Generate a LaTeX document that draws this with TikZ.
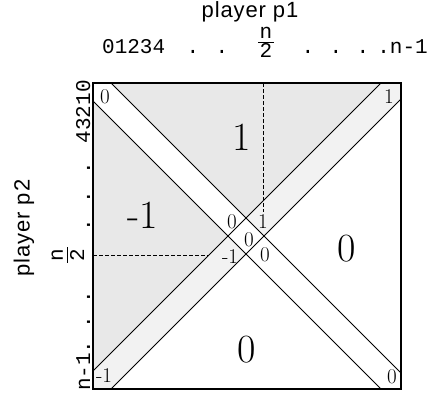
\documentclass[tikz,border=0pt]{standalone}
\usepackage{fontspec}
\newfontfamily\arialfont[LetterSpace=4]{Liberation Sans}
\newfontfamily\courfont{Liberation Mono}
\tikzset{
  frame/.style={line width=1.3pt},
  bandline/.style={line width=1pt},
  dashline/.style={line width=1pt, dash pattern=on 3.5pt off 2.5pt},
  fracbar/.style={line width=0.8pt},
  biglab/.style={font=\fontsize{40}{40}\selectfont, inner sep=0pt},
  smalllab/.style={font=\fontsize{21}{21}\selectfont, inner sep=0pt},
  axislab/.style={font=\courfont\fontsize{21}{21}\selectfont, inner sep=0pt},
  titlelab/.style={font=\arialfont\fontsize{22}{22}\selectfont, inner sep=0pt},
  darkfill/.style={fill=black!9},
  lightfill/.style={fill=black!5}
}
\begin{document}
\begin{tikzpicture}[x=1pt,y=-1pt]
\useasboundingbox (0,0) rectangle (429,394);
% corners
\coordinate (TL) at (93,83);
\coordinate (TR) at (401,83);
\coordinate (BR) at (401,389);
\coordinate (BL) at (93,389);
% band ends
\coordinate (a1s) at (111,83);  \coordinate (a1e) at (401,373);
\coordinate (a2s) at (93,101);  \coordinate (a2e) at (381,389);
\coordinate (b1s) at (93,371);  \coordinate (b1e) at (381,83);
\coordinate (b2s) at (111,389); \coordinate (b2e) at (401,99);
% shading
\fill[darkfill] (TL) -- (b1e) -- (b1s) -- cycle;
\fill[lightfill] (b1s) -- (b1e) -- (TR) -- (b2e) -- (b2s) -- (BL) -- cycle;
\fill[white] (TL) -- (a1s) -- (a1e) -- (BR) -- (a2e) -- (a2s) -- cycle;
% dashed guides
\coordinate (dv1) at (263,83);  \coordinate (dv2) at (263,212);
\coordinate (dh1) at (93,255);  \coordinate (dh2) at (208,255);
\draw[dashline] (dv1) -- (dv2);
\draw[dashline] (dh1) -- (dh2);
% band lines
\draw[bandline] (a1s) -- (a1e);
\draw[bandline] (a2s) -- (a2e);
\draw[bandline] (b1s) -- (b1e);
\draw[bandline] (b2s) -- (b2e);
% frame
\draw[frame] (TL) rectangle (BR);
% big labels
\node[biglab] (big1) at (242,137) {1};
\node[biglab] (bigm1) at (143,215) {-1};
\node[biglab] (bigr0) at (347,249) {0};
\node[biglab] (bigb0) at (247,350) {0};
% small labels
\node[smalllab] (ctl) at (105,97) {0};
\node[smalllab] (ctr) at (389,97) {1};
\node[smalllab] (cbl) at (104,376) {-1};
\node[smalllab] (cbr) at (392,377) {0};
\node[smalllab] (m0a) at (232,222) {0};
\node[smalllab] (m1) at (263,222) {1};
\node[smalllab] (m0b) at (249,240) {0};
\node[smalllab] (mm1) at (230,257) {-1};
\node[smalllab] (m0c) at (265,255) {0};
% titles
\node[titlelab] (p1) at (250,12) {player p1};
\node[titlelab, rotate=90] (p2) at (24,228) {player p2};
% top axis
\node[axislab, anchor=base west] (tx0) at (102,53) {01234};
\node[axislab, anchor=base] (td1) at (193,53) {.};
\node[axislab, anchor=base] (td2) at (222,53) {.};
\node[axislab, anchor=base] (tnum) at (266,38) {n};
\node[axislab, anchor=base] (tden) at (266,57) {2};
\coordinate (tb1) at (258,42); \coordinate (tb2) at (274,42);
\draw[fracbar] (tb1) -- (tb2);
\node[axislab, anchor=base] (td3) at (308,53) {.};
\node[axislab, anchor=base] (td4) at (336,53) {.};
\node[axislab, anchor=base] (td5) at (363,53) {.};
\node[axislab, anchor=base east] (tn) at (428,53) {.n-1};
% left axis
\node[axislab, rotate=90, anchor=base east] (lx0) at (90,80) {43210};
\node[axislab, rotate=90, anchor=base] (ld1) at (90,168) {.};
\node[axislab, rotate=90, anchor=base] (ld2) at (90,197) {.};
\node[axislab, rotate=90, anchor=base] (ld3) at (90,225) {.};
\node[axislab, rotate=90, anchor=base] (lnum) at (63,255) {n};
\node[axislab, rotate=90, anchor=base] (lden) at (84,255) {2};
\coordinate (lb1) at (67,247); \coordinate (lb2) at (67,263);
\draw[fracbar] (lb1) -- (lb2);
\node[axislab, rotate=90, anchor=base] (ld4) at (90,297) {.};
\node[axislab, rotate=90, anchor=base] (ld5) at (90,322) {.};
\node[axislab, rotate=90, anchor=base west] (ln) at (90,391) {n-1.};
\end{tikzpicture}
\end{document}
